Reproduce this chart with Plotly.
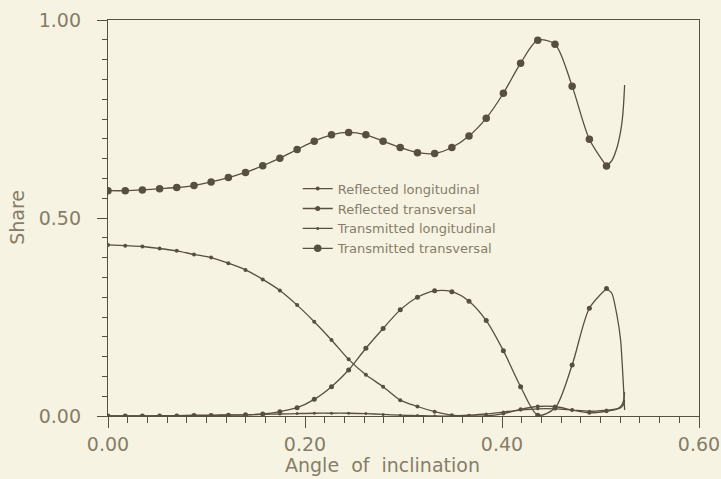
import plotly.graph_objects as go

# Angle of inclination (rad), marked points at every degree
angle = [0.0, 0.0175, 0.0349, 0.0524, 0.0698, 0.0873, 0.1047, 0.1222, 0.1396, 0.1571,
         0.1745, 0.1920, 0.2094, 0.2269, 0.2443, 0.2618, 0.2793, 0.2967, 0.3142, 0.3316,
         0.3491, 0.3665, 0.3840, 0.4014, 0.4189, 0.4363, 0.4538, 0.4712, 0.4887, 0.5061]

refl_long = [0.432, 0.430, 0.428, 0.423, 0.417, 0.408, 0.400, 0.386, 0.369, 0.345,
             0.317, 0.280, 0.238, 0.192, 0.143, 0.104, 0.074, 0.040, 0.024, 0.011,
             0.002, 0.000, 0.000, 0.006, 0.017, 0.024, 0.024, 0.015, 0.008, 0.012]

refl_trans = [0.000, 0.000, 0.000, 0.000, 0.000, 0.001, 0.001, 0.002, 0.003, 0.005,
              0.011, 0.021, 0.042, 0.074, 0.116, 0.171, 0.221, 0.268, 0.300, 0.316,
              0.314, 0.290, 0.241, 0.165, 0.074, 0.002, 0.020, 0.129, 0.272, 0.322]

trans_long = [0.000, 0.000, 0.000, 0.001, 0.001, 0.002, 0.002, 0.003, 0.003, 0.004,
              0.005, 0.006, 0.007, 0.007, 0.007, 0.006, 0.004, 0.002, 0.001, 0.000,
              0.000, 0.002, 0.005, 0.010, 0.015, 0.018, 0.018, 0.015, 0.012, 0.015]

trans_trans = [0.569, 0.569, 0.571, 0.574, 0.577, 0.582, 0.591, 0.602, 0.615, 0.632,
               0.651, 0.673, 0.694, 0.710, 0.716, 0.710, 0.694, 0.678, 0.665, 0.663,
               0.678, 0.707, 0.752, 0.815, 0.891, 0.949, 0.939, 0.833, 0.699, 0.631]

# Unmarked tail of each curve beyond the last marked angle
tail_angle = [0.5115, 0.5170, 0.5205, 0.5222, 0.5235, 0.5245]
refl_long_tail = [0.014, 0.018, 0.024, 0.030, 0.040, 0.060]
refl_trans_tail = [0.310, 0.250, 0.190, 0.125, 0.066, 0.015]
trans_long_tail = [0.016, 0.018, 0.021, 0.025, 0.030, 0.040]
trans_trans_tail = [0.645, 0.680, 0.720, 0.750, 0.790, 0.836]

x_ticks = [0.0, 0.2, 0.4, 0.6]
x_tick_text = ["0.00", "0.20", "0.40", "0.60"]
y_ticks = [0.0, 0.5, 1.0]
y_tick_text = ["0.00", "0.50", "1.00"]

INK = "#574f40"
TEXT = "#857d68"
BG = "#f7f3e3"
FONT = "DejaVu Sans, sans-serif"

series = [
    ("Reflected longitudinal", refl_long, refl_long_tail, 4),
    ("Reflected transversal", refl_trans, refl_trans_tail, 5),
    ("Transmitted longitudinal", trans_long, trans_long_tail, 3),
    ("Transmitted transversal", trans_trans, trans_trans_tail, 7.5),
]

fig = go.Figure()
for name, vals, tail, msize in series:
    fig.add_trace(go.Scatter(
        x=angle, y=vals, name=name, mode="lines+markers",
        line=dict(color=INK, width=1.3, shape="spline", smoothing=0.8),
        marker=dict(color=INK, size=msize),
    ))
    fig.add_trace(go.Scatter(
        x=[angle[-1]] + tail_angle, y=[vals[-1]] + tail, mode="lines",
        showlegend=False, hoverinfo="skip",
        line=dict(color=INK, width=1.3, shape="spline", smoothing=0.6),
    ))

fig.update_layout(
    width=721, height=479,
    margin=dict(l=108, r=22, t=20, b=63, autoexpand=False),
    paper_bgcolor=BG, plot_bgcolor=BG,
    font=dict(family=FONT, color=TEXT, size=19),
    showlegend=True,
    legend=dict(
        x=0.321, y=0.612, xanchor="left", yanchor="top",
        bgcolor="rgba(0,0,0,0)", borderwidth=0,
        font=dict(size=13, color=TEXT, family=FONT),
        tracegroupgap=0,
    ),
)

fig.update_xaxes(
    range=[0, 0.6], tickvals=x_ticks, ticktext=x_tick_text,
    showgrid=False, zeroline=False, automargin=False,
    showline=True, linecolor=INK, linewidth=1.3, mirror=True,
    ticks="outside", ticklen=11, tickcolor=INK, tickwidth=1.3,
    minor=dict(dtick=0.02, ticks="outside", ticklen=6, tickcolor=INK, tickwidth=1.2, showgrid=False),
    tickfont=dict(size=19, color=TEXT, family=FONT),
)
fig.update_yaxes(
    range=[0, 1], tickvals=y_ticks, ticktext=y_tick_text,
    showgrid=False, zeroline=False, automargin=False,
    showline=True, linecolor=INK, linewidth=1.3, mirror=True,
    ticks="outside", ticklen=10, tickcolor=INK, tickwidth=1.3,
    minor=dict(dtick=0.05, ticks="outside", ticklen=5, tickcolor=INK, tickwidth=1.2, showgrid=False),
    tickfont=dict(size=19, color=TEXT, family=FONT),
    ticklabelstandoff=12,
)

fig.add_annotation(text="Share", xref="paper", yref="paper",
                   x=-0.154, y=0.503, xanchor="center", yanchor="middle",
                   textangle=-90, showarrow=False,
                   font=dict(size=19, color=TEXT, family=FONT))
fig.add_annotation(text="Angle  of  inclination", xref="paper", yref="paper",
                   x=0.465, y=-0.124, xanchor="center", yanchor="middle",
                   showarrow=False,
                   font=dict(size=19, color=TEXT, family=FONT))

fig.write_html(
    "out.html",
    config={"displayModeBar": False},
    post_script="document.body.style.margin='0';document.body.style.background='%s';" % BG,
)
